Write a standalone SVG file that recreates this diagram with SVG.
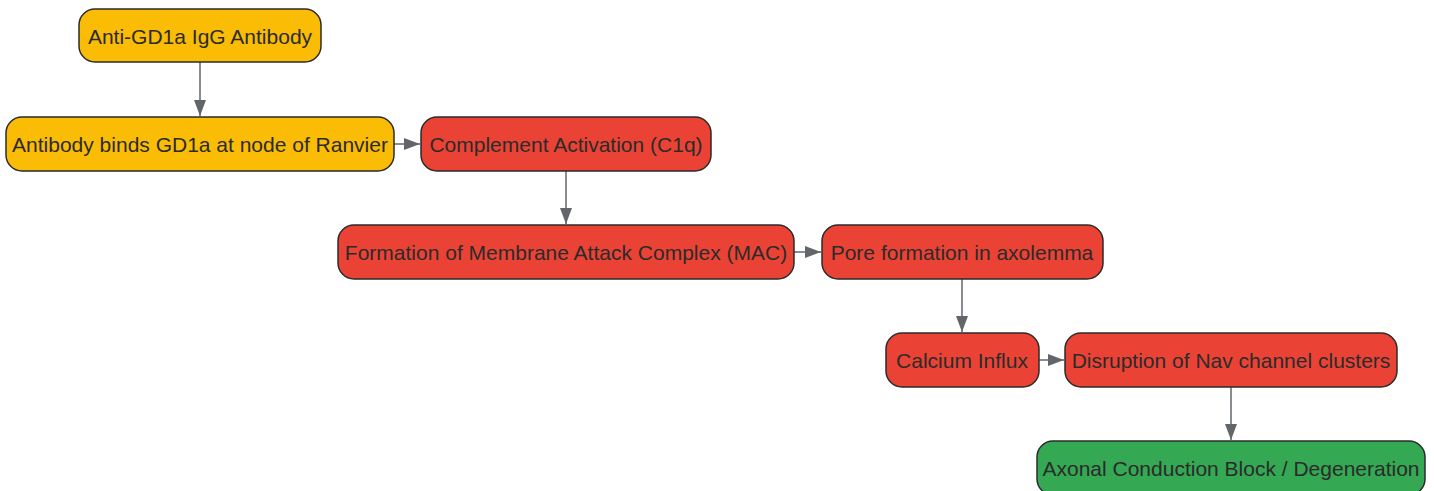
<svg xmlns="http://www.w3.org/2000/svg" width="1434" height="491" viewBox="0 0 1434 491">
<style>
.n rect{stroke:#2b2b2b;stroke-width:1.5}
.y rect{fill:#fbbc05}
.r rect{fill:#ea4335}
.g rect{fill:#34a853}
.n text{font-family:"Liberation Sans",Arial,sans-serif;font-size:21px;fill:#2b2b2b;text-anchor:middle;dominant-baseline:central}
.c line{stroke:#62666b;stroke-width:1.5;marker-end:url(#ah)}
</style>
<defs>
<marker id="ah" viewBox="0 0 16 12" refX="16" refY="6" markerWidth="16" markerHeight="12" markerUnits="userSpaceOnUse" orient="auto"><path d="M0,0 L16,6 L0,12 z" fill="#62666b"/></marker>
</defs>
<rect width="1434" height="491" fill="#ffffff"/>
<g class="c">
<line x1="200" y1="62" x2="200" y2="116"/>
<line x1="394" y1="144" x2="420" y2="144"/>
<line x1="566" y1="171" x2="566" y2="224"/>
<line x1="794" y1="252" x2="821" y2="252"/>
<line x1="962" y1="279" x2="962" y2="332"/>
<line x1="1039" y1="360" x2="1064" y2="360"/>
<line x1="1231" y1="387" x2="1231" y2="440"/>
</g>
<g id="n1" class="n y"><rect x="79" y="9" width="242" height="53" rx="16"/><text x="200" y="36">Anti-GD1a IgG Antibody</text></g>
<g id="n2" class="n y"><rect x="6" y="117" width="388" height="54" rx="16"/><text x="200" y="144">Antibody binds GD1a at node of Ranvier</text></g>
<g id="n3" class="n r"><rect x="421" y="117" width="290" height="54" rx="16"/><text x="566" y="144">Complement Activation (C1q)</text></g>
<g id="n4" class="n r"><rect x="338" y="225" width="456" height="54" rx="16"/><text x="566" y="252">Formation of Membrane Attack Complex (MAC)</text></g>
<g id="n5" class="n r"><rect x="822" y="225" width="281" height="54" rx="16"/><text x="962" y="252">Pore formation in axolemma</text></g>
<g id="n6" class="n r"><rect x="886" y="333" width="153" height="54" rx="16"/><text x="962" y="360">Calcium Influx</text></g>
<g id="n7" class="n r"><rect x="1065" y="333" width="332" height="54" rx="16"/><text x="1231" y="360">Disruption of Nav channel clusters</text></g>
<g id="n8" class="n g"><rect x="1037" y="441" width="388" height="54" rx="16"/><text x="1231" y="468">Axonal Conduction Block / Degeneration</text></g>
</svg>
